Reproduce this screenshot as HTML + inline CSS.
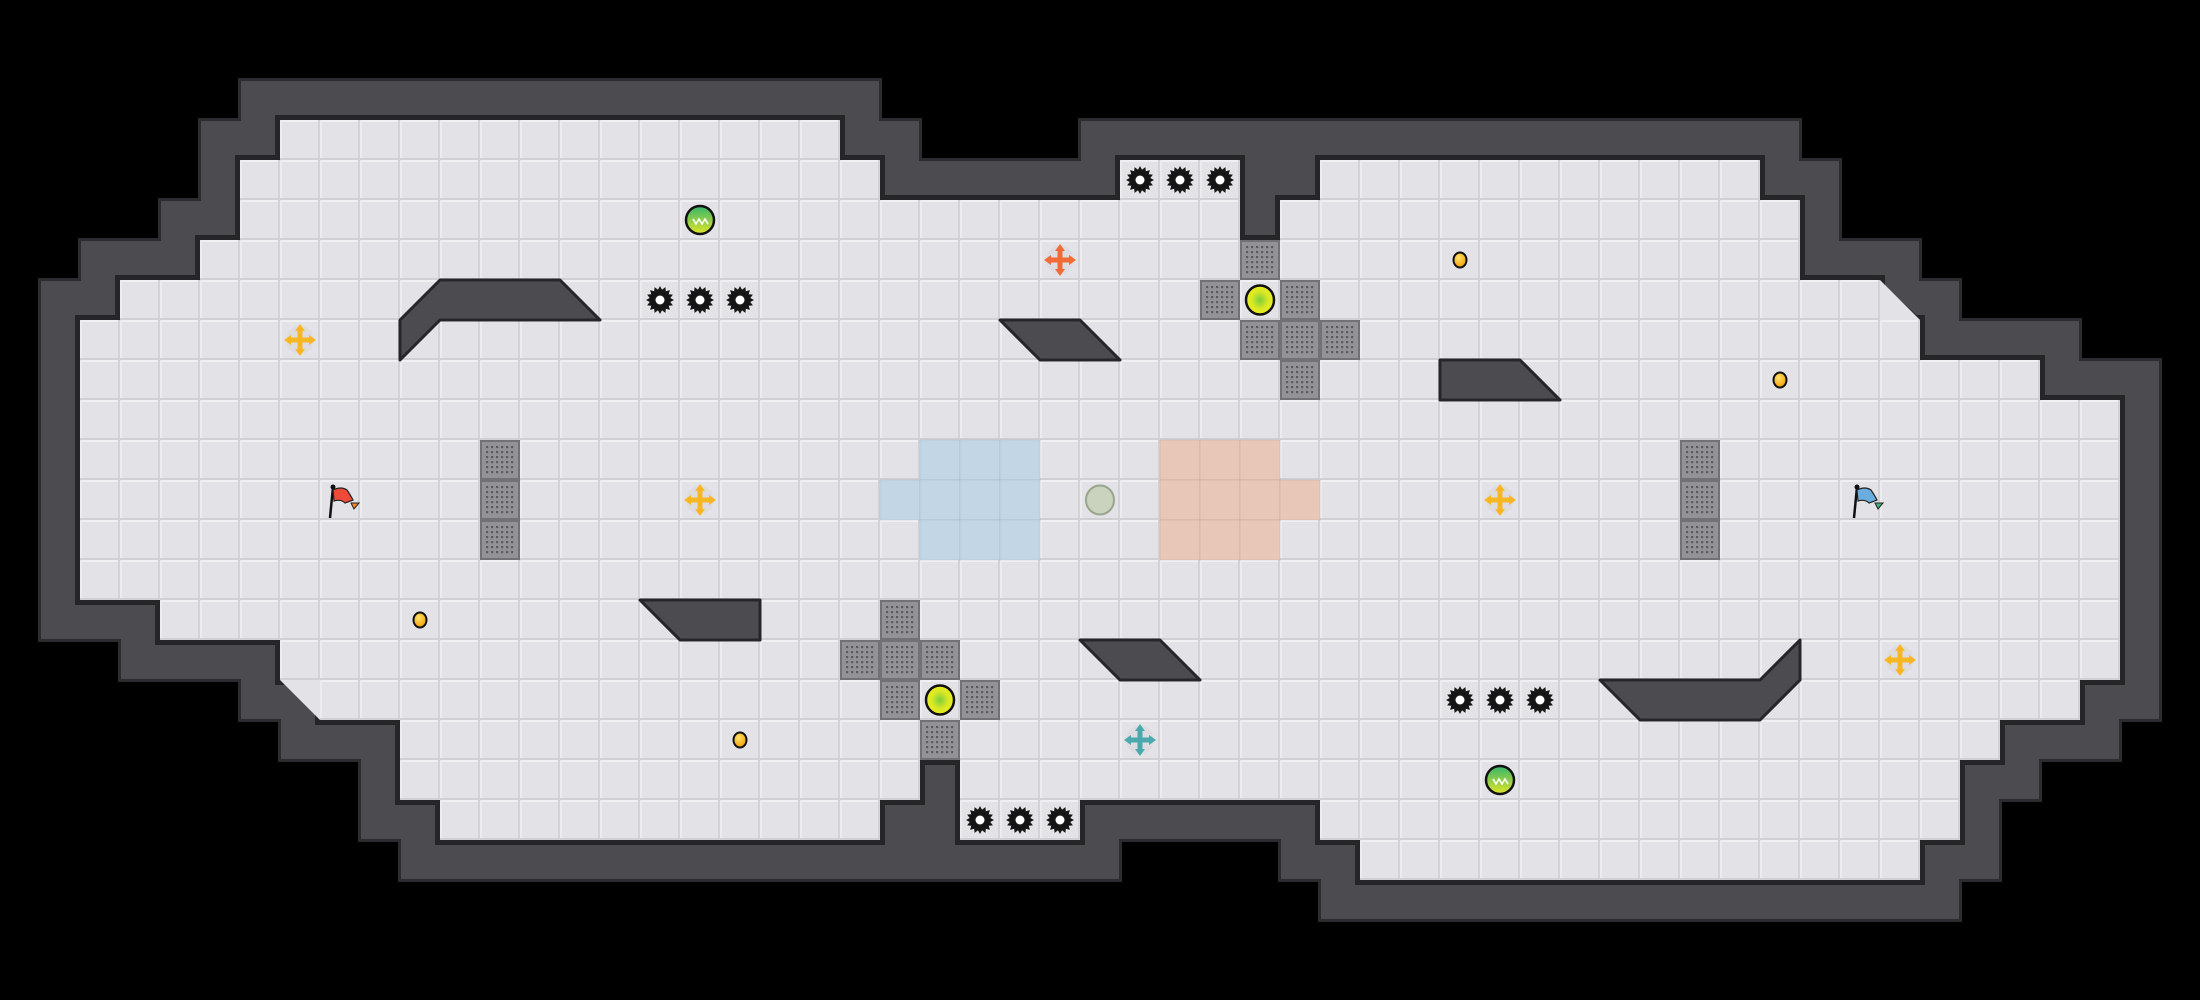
<!DOCTYPE html>
<html><head><meta charset="utf-8">
<style>
html,body{margin:0;padding:0;background:#000;}
svg{display:block;}
</style></head>
<body>
<svg id="s" width="2200" height="1000" viewBox="0 0 2200 1000" xmlns="http://www.w3.org/2000/svg">
<defs>
<pattern id="fl" width="40" height="40" patternUnits="userSpaceOnUse">
<rect width="40" height="40" fill="#e3e3e7"/>
<rect x="0" y="0" width="40" height="2" fill="#f0f0f3"/>
<rect x="0" y="0" width="2" height="40" fill="#ececef"/>
<rect x="0" y="38" width="40" height="2" fill="#cfcfd4"/>
<rect x="38" y="0" width="2" height="40" fill="#d2d2d7"/>
</pattern>
<pattern id="mt" width="40" height="40" patternUnits="userSpaceOnUse">
<rect width="40" height="40" fill="#8c8c90"/>
<rect x="1" y="1" width="38" height="38" fill="#939397" stroke="#727276" stroke-width="2"/>
</pattern>
<pattern id="dots" width="5" height="5" patternUnits="userSpaceOnUse">
<rect x="1" y="1" width="2.2" height="2.2" fill="#5c5c60"/>
</pattern>
<radialGradient id="yb" cx="0.5" cy="0.5" r="0.5">
<stop offset="0" stop-color="#7fcf3a"/><stop offset="0.6" stop-color="#d8e825"/><stop offset="1" stop-color="#ecef1e"/>
</radialGradient>
<linearGradient id="gb" x1="0" y1="0" x2="0" y2="1">
<stop offset="0" stop-color="#36b56a"/><stop offset="1" stop-color="#e2e62a"/>
</linearGradient>
<radialGradient id="cn" cx="0.4" cy="0.35" r="0.6">
<stop offset="0" stop-color="#ffe36a"/><stop offset="1" stop-color="#f2a60c"/>
</radialGradient>
</defs>
<g id="wall"></g>
<g id="edge"></g>
<g id="floor"></g>
<g id="obj"></g>
</svg>
<script>
var T=40;
var rows={
3:[[7,20]],
4:[[6,21],[28,30],[33,43]],
5:[[6,30],[32,44]],
6:[[5,44]],
7:[[3,46]],
8:[[2,47]],
9:[[2,50]],
10:[[2,52]],11:[[2,52]],12:[[2,52]],13:[[2,52]],14:[[2,52]],
15:[[4,52]],
16:[[7,52]],
17:[[8,51]],
18:[[10,49]],
19:[[10,22],[24,48]],
20:[[11,21],[24,26],[33,48]],
21:[[34,47]]
};
var F={};
for(var r in rows){rows[r].forEach(function(g){for(var c=g[0];c<=g[1];c++)F[c+','+r]=1;});}
function isF(c,r){return F[c+','+r]===1;}
var W={};
for(var k in F){var p=k.split(',').map(Number);
for(var dx=-1;dx<=1;dx++)for(var dy=-1;dy<=1;dy++){var kk=(p[0]+dx)+','+(p[1]+dy);if(!F[kk])W[kk]=1;}}
var wall='',edge='',floor='';
// wall outer dark outline
for(var k in W){var p=k.split(',').map(Number);
wall+='<rect x="'+(p[0]*T-2)+'" y="'+(p[1]*T-2)+'" width="44" height="44" fill="#2c2c30"/>';}
for(var k in W){var p=k.split(',').map(Number);
wall+='<rect x="'+(p[0]*T+1)+'" y="'+(p[1]*T+1)+'" width="38" height="38" fill="#4b4b50"/>';}
for(var k in W){var p=k.split(',').map(Number);
// fill gaps between adjacent wall tiles
if(W[(p[0]+1)+','+p[1]])wall+='<rect x="'+(p[0]*T+38)+'" y="'+(p[1]*T+1)+'" width="4" height="38" fill="#4b4b50"/>';
if(W[p[0]+','+(p[1]+1)])wall+='<rect x="'+(p[0]*T+1)+'" y="'+(p[1]*T+38)+'" width="38" height="4" fill="#4b4b50"/>';
if(W[(p[0]+1)+','+p[1]]&&W[p[0]+','+(p[1]+1)]&&W[(p[0]+1)+','+(p[1]+1)])wall+='<rect x="'+(p[0]*T+38)+'" y="'+(p[1]*T+38)+'" width="4" height="4" fill="#4b4b50"/>';}
for(var k in F){var p=k.split(',').map(Number);
edge+='<rect x="'+(p[0]*T-5)+'" y="'+(p[1]*T-5)+'" width="50" height="50" fill="#262629"/>';
floor+='<rect x="'+(p[0]*T)+'" y="'+(p[1]*T)+'" width="40" height="40" fill="url(#fl)"/>';}
// slopes
edge+='<polygon points="1876,278 1922,320 1876,324" fill="#262629"/>';
floor+='<polygon points="1880,280 1920,320 1880,320" fill="#e3e3e7"/>';
edge+='<polygon points="278,676 324,676 324,722" fill="#262629"/>';
floor+='<polygon points="280,680 320,680 320,720" fill="#e3e3e7"/>';
document.getElementById('wall').innerHTML=wall;
document.getElementById('edge').innerHTML=edge;
document.getElementById('floor').innerHTML=floor;

var o='';
function tile(c,r,fill){o+='<rect x="'+c*T+'" y="'+r*T+'" width="40" height="40" fill="'+fill+'" stroke="rgba(0,0,0,0.06)" stroke-width="1"/>';}
[[23,11],[24,11],[25,11],[22,12],[23,12],[24,12],[25,12],[23,13],[24,13],[25,13]].forEach(function(a){tile(a[0],a[1],'#c3d6e6');});
[[29,11],[30,11],[31,11],[29,12],[30,12],[31,12],[32,12],[29,13],[30,13],[31,13]].forEach(function(a){tile(a[0],a[1],'#e8c6b8');});
function metal(c,r){o+='<rect x="'+c*T+'" y="'+r*T+'" width="40" height="40" fill="url(#mt)"/><rect x="'+(c*T+4)+'" y="'+(r*T+4)+'" width="32" height="32" fill="url(#dots)"/>';}
[[12,11],[12,12],[12,13],[31,6],[30,7],[32,7],[31,8],[32,8],[33,8],[32,9],[42,11],[42,12],[42,13],[22,15],[21,16],[22,16],[23,16],[22,17],[24,17],[23,18]].forEach(function(a){metal(a[0],a[1]);});
// platforms
function plat(pts){o+='<polygon points="'+pts+'" fill="#4b4b50" stroke="#26262a" stroke-width="3" stroke-linejoin="round"/>';}
plat('400,320 440,280 560,280 600,320 440,320 400,360');
plat('1000,320 1080,320 1120,360 1040,360');
plat('1440,360 1520,360 1560,400 1440,400');
plat('640,600 760,600 760,640 680,640');
plat('1080,640 1160,640 1200,680 1120,680');
plat('1600,680 1760,680 1800,640 1800,680 1760,720 1640,720');
// gears
function gear(cx,cy){var s='';for(var i=0;i<32;i++){var a=i*Math.PI/16;var rr=(i%2==0)?14:10.5;s+=(cx+rr*Math.cos(a)).toFixed(1)+','+(cy+rr*Math.sin(a)).toFixed(1)+' ';}
o+='<polygon points="'+s+'" fill="#151515"/><circle cx="'+cx+'" cy="'+cy+'" r="4.5" fill="#fff"/>';}
[[28,4],[29,4],[30,4],[16,7],[17,7],[18,7],[24,20],[25,20],[26,20],[36,17],[37,17],[38,17]].forEach(function(a){gear(a[0]*T+20,a[1]*T+20);});
// balls
function ybal(c,r){var x=c*T+20,y=r*T+20;o+='<ellipse cx="'+x+'" cy="'+y+'" rx="14" ry="14.5" fill="url(#yb)" stroke="#111" stroke-width="2.5"/>';}
ybal(31,7);ybal(23,17);
function gbal(c,r){var x=c*T+20,y=r*T+20;o+='<ellipse cx="'+x+'" cy="'+y+'" rx="14" ry="14" fill="url(#gb)" stroke="#111" stroke-width="2.5"/><path d="M'+(x-7)+' '+(y-1)+' l3 5 l3 -5 l3 5 l3 -5 l3 5" fill="none" stroke="#fff" stroke-width="1.6"/>';}
gbal(17,5);gbal(37,19);
function coin(c,r){var x=c*T+20,y=r*T+20;o+='<ellipse cx="'+x+'" cy="'+y+'" rx="6.5" ry="7.5" fill="url(#cn)" stroke="#111" stroke-width="2"/>';}
coin(10,15);coin(18,18);coin(36,6);coin(44,9);
o+='<ellipse cx="1100" cy="500" rx="14" ry="14.5" fill="#c9d3bd" stroke="#9aa58e" stroke-width="2"/>';
// crosses
function cross(c,r,col){var x=c*T+20,y=r*T+20;
o+='<circle cx="'+x+'" cy="'+y+'" r="14" fill="#d9d9de" opacity="0.7"/>';
o+='<rect x="'+(x-11)+'" y="'+(y-2.5)+'" width="22" height="5" fill="'+col+'"/><rect x="'+(x-2.5)+'" y="'+(y-11)+'" width="5" height="22" fill="'+col+'"/>';
o+='<polygon points="'+x+','+(y-16)+' '+(x-5)+','+(y-9)+' '+(x+5)+','+(y-9)+'" fill="'+col+'"/>';
o+='<polygon points="'+x+','+(y+16)+' '+(x-5)+','+(y+9)+' '+(x+5)+','+(y+9)+'" fill="'+col+'"/>';
o+='<polygon points="'+(x-16)+','+y+' '+(x-9)+','+(y-5)+' '+(x-9)+','+(y+5)+'" fill="'+col+'"/>';
o+='<polygon points="'+(x+16)+','+y+' '+(x+9)+','+(y-5)+' '+(x+9)+','+(y+5)+'" fill="'+col+'"/>';}
cross(7,8,'#f7b722');cross(17,12,'#f7b722');cross(37,12,'#f7b722');cross(47,16,'#f7b722');
cross(26,6,'#f26a35');cross(28,18,'#4aa9ad');
// flags
function flag(x,y,c1,c2){o+='<line x1="'+(x-7)+'" y1="'+(y+18)+'" x2="'+(x-4)+'" y2="'+(y-13)+'" stroke="#111" stroke-width="2.5"/><circle cx="'+(x-4)+'" cy="'+(y-13)+'" r="2.5" fill="#111"/>';
o+='<path d="M'+(x-4)+' '+(y-10)+' q8 -4 14 0 q4 6 6 10 l-8 3 q-4 -4 -11 -2 z" fill="'+c1+'" stroke="#222" stroke-width="1.2"/>';
o+='<path d="M'+(x+14)+' '+(y+3)+' l8 0 l-5 6 z" fill="'+c2+'" stroke="#222" stroke-width="1"/>';}
flag(337,500,'#ee4a3a','#f08a30');flag(1861,500,'#6aaee0','#40b07a');
document.getElementById('obj').innerHTML=o;
</script>
</body></html>
